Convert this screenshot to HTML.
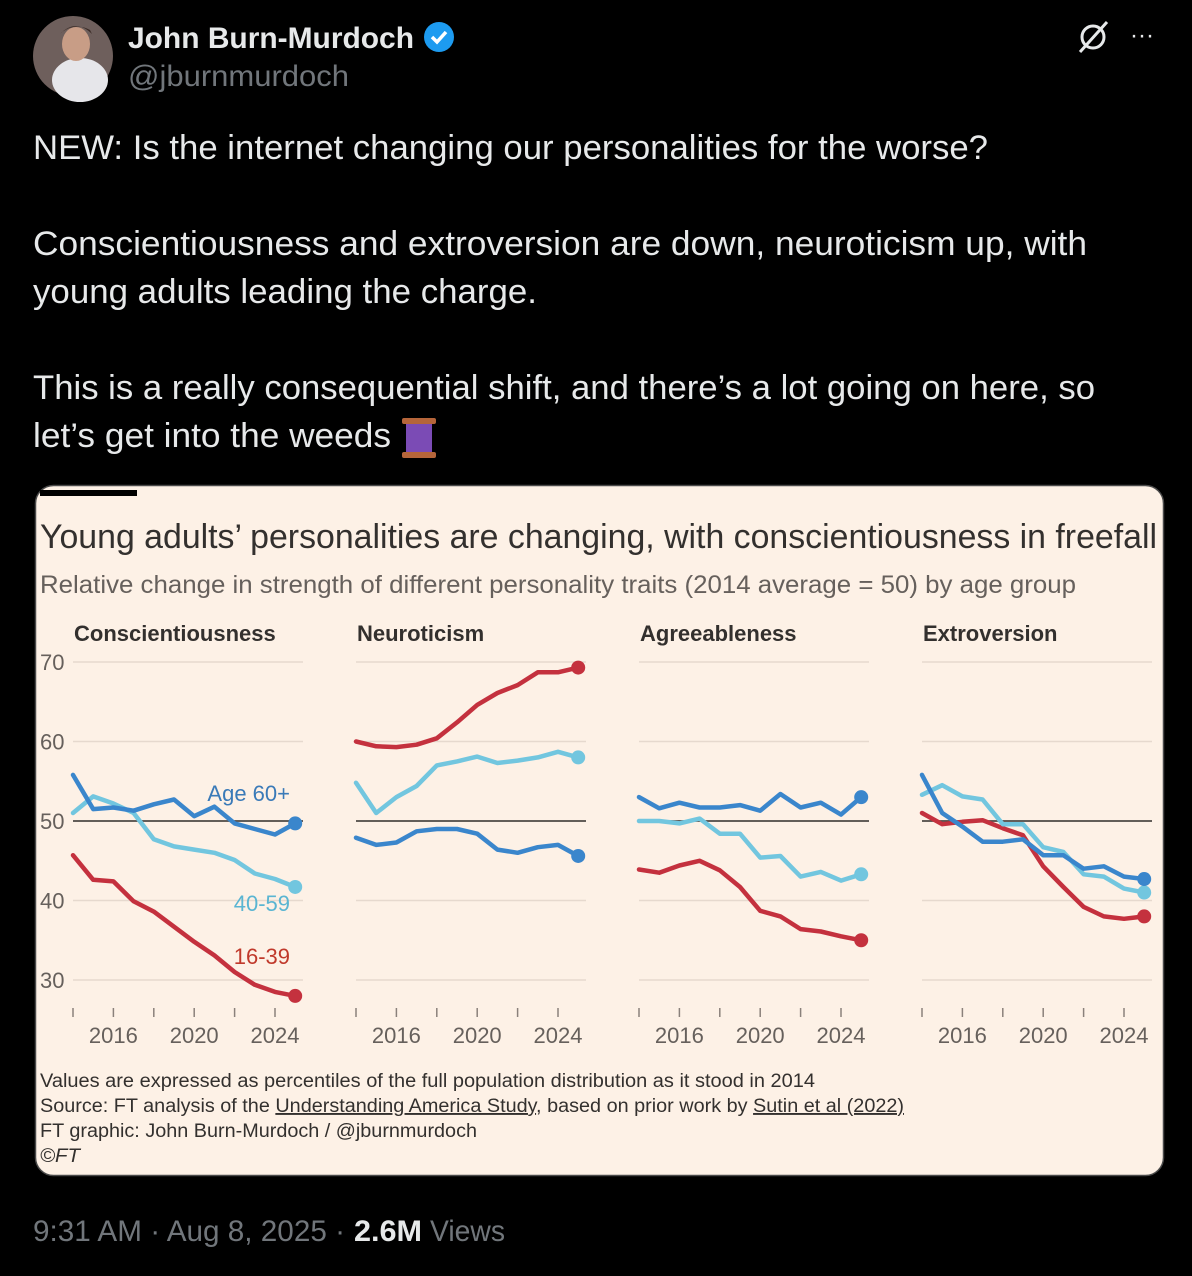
<!DOCTYPE html>
<html><head><meta charset="utf-8">
<style>
html,body{margin:0;padding:0;background:#000;}
svg{display:block;}
text{font-family:"Liberation Sans",sans-serif;}
</style></head>
<body>
<svg id="page" width="1192" height="1276" viewBox="0 0 1192 1276" xmlns="http://www.w3.org/2000/svg">
<rect x="0" y="0" width="1192" height="1276" fill="#000"/>
<g>
<circle cx="73" cy="56" r="40" fill="#6e5f5c"/>
<ellipse cx="80" cy="80" rx="28" ry="22" fill="#e6e6ea"/>
<ellipse cx="76" cy="44" rx="14" ry="17" fill="#c89d86"/>
<path d="M60 34 Q76 18 92 34 L90 30 Q76 22 62 32Z" fill="#3a2a24"/>
</g>
<text x="128" y="48" font-size="30" font-weight="bold" fill="#e7e9ea" textLength="286" lengthAdjust="spacingAndGlyphs">John Burn-Murdoch</text>
<g>
<circle cx="439" cy="37" r="15" fill="#1d9bf0"/>
<path d="M432 37 l5 5 l9 -10" stroke="#fff" stroke-width="3.5" fill="none"/>
</g>
<text x="128" y="86" font-size="30" fill="#71767b" textLength="221" lengthAdjust="spacingAndGlyphs">@jburnmurdoch</text>
<g stroke="#e7e9ea" stroke-width="3" fill="none">
<circle cx="1093" cy="37" r="11"/><line x1="1080" y1="52" x2="1107" y2="22"/>
</g>
<text x="1130" y="43" font-size="24" fill="#e7e9ea">···</text>

<g font-size="34" fill="#e7e9ea">
<text x="33" y="159" textLength="955" lengthAdjust="spacingAndGlyphs">NEW: Is the internet changing our personalities for the worse?</text>
<text x="33" y="255" textLength="1054" lengthAdjust="spacingAndGlyphs">Conscientiousness and extroversion are down, neuroticism up, with</text>
<text x="33" y="303" textLength="504" lengthAdjust="spacingAndGlyphs">young adults leading the charge.</text>
<text x="33" y="399" textLength="1062" lengthAdjust="spacingAndGlyphs">This is a really consequential shift, and there’s a lot going on here, so</text>
<text x="33" y="447" textLength="358" lengthAdjust="spacingAndGlyphs">let’s get into the weeds</text>
</g>
<g>
<rect x="402" y="418" width="34" height="6" rx="2" fill="#b5653a"/>
<rect x="406" y="424" width="26" height="28" fill="#7b4bb5"/>
<rect x="402" y="452" width="34" height="6" rx="2" fill="#b5653a"/>
</g>

<g>
<rect x="35.5" y="485.5" width="1128" height="690" rx="18" fill="#fdf1e6" stroke="#4a4a4a" stroke-width="1.5"/>
<rect x="40" y="490" width="97" height="6" fill="#000"/>
<text x="40" y="548" font-size="34" fill="#33302e" textLength="1117" lengthAdjust="spacingAndGlyphs">Young adults’ personalities are changing, with conscientiousness in freefall</text>
<text x="40" y="593" font-size="25" fill="#66605c" textLength="1036" lengthAdjust="spacingAndGlyphs">Relative change in strength of different personality traits (2014 average = 50) by age group</text>
<g id="panels"></g>
<g font-size="19" fill="#33302e">
<text x="40" y="1087" textLength="775" lengthAdjust="spacingAndGlyphs">Values are expressed as percentiles of the full population distribution as it stood in 2014</text>
<text x="40" y="1112" textLength="864" lengthAdjust="spacingAndGlyphs">Source: FT analysis of the <tspan text-decoration="underline">Understanding America Study</tspan>, based on prior work by <tspan text-decoration="underline">Sutin et al (2022)</tspan></text>
<text x="40" y="1137" textLength="437" lengthAdjust="spacingAndGlyphs">FT graphic: John Burn-Murdoch / @jburnmurdoch</text>
<text x="40" y="1162" font-style="italic" textLength="40" lengthAdjust="spacingAndGlyphs">©FT</text>
</g>
</g>

<text x="33" y="1241" font-size="30" fill="#71767b" textLength="312" lengthAdjust="spacingAndGlyphs">9:31 AM · Aug 8, 2025 ·</text>
<text x="354" y="1241" font-size="30" font-weight="bold" fill="#e7e9ea" textLength="68" lengthAdjust="spacingAndGlyphs">2.6M</text>
<text x="430" y="1241" font-size="30" fill="#71767b" textLength="75" lengthAdjust="spacingAndGlyphs">Views</text>
</svg>
<script>
const years = [2014,2015,2016,2017,2018,2019,2020,2021,2022,2023,2024,2025];
const panelTitles = ["Conscientiousness","Neuroticism","Agreeableness","Extroversion"];
const yTicks = [30,40,50,60,70];
const xTickYears = [2014,2016,2018,2020,2022,2024];
const xLabelYears = [2016,2020,2024];
const seriesNames = ["16-39","40-59","Age 60+"];
const consc60 = [55.8,51.5,51.7,51.3,52.1,52.7,50.6,51.8,49.7,49.0,48.3,49.7];
const consc40 = [51.0,53.1,52.2,51.0,47.7,46.8,46.4,46.0,45.1,43.4,42.7,41.7];
const consc16 = [45.7,42.6,42.4,39.9,38.6,36.7,34.8,33.1,31.0,29.4,28.5,28.0];
const neuro60 = [47.9,47.0,47.3,48.7,49.0,49.0,48.4,46.4,46.0,46.7,47.0,45.6];
const neuro40 = [54.8,51.0,53.0,54.4,57.0,57.5,58.1,57.3,57.6,58.0,58.7,58.0];
const neuro16 = [60.0,59.4,59.3,59.6,60.4,62.4,64.6,66.1,67.1,68.7,68.7,69.3];
const agree60 = [53.0,51.6,52.3,51.7,51.7,52.0,51.3,53.4,51.7,52.3,50.8,53.0];
const agree40 = [50.0,50.0,49.7,50.3,48.4,48.4,45.4,45.6,43.0,43.6,42.5,43.3];
const agree16 = [43.9,43.5,44.4,45.0,43.8,41.7,38.7,38.0,36.4,36.1,35.5,35.0];
const extro60 = [55.8,51.0,49.3,47.4,47.4,47.7,45.7,45.7,44.0,44.3,43.0,42.7];
const extro40 = [53.3,54.5,53.1,52.7,49.6,49.6,46.7,46.1,43.3,43.0,41.5,41.0];
const extro16 = [51.0,49.6,49.9,50.1,49.1,48.2,44.3,41.7,39.2,38.0,37.7,38.0];
const panelData = [[consc16,consc40,consc60],[neuro16,neuro40,neuro60],[agree16,agree40,agree60],[extro16,extro40,extro60]];

const NS="http://www.w3.org/2000/svg";
const colors=["#c4313e","#72c6df","#3a86cc"];
const panelLeft=[73,356,639,922];
const panelW=230;
function yScale(v){return 821-(v-50)*7.95;}
function xScale(p,yr){return panelLeft[p]+(yr-2014)*20.2;}
function mk(tag,attrs,parent){const e=document.createElementNS(NS,tag);for(const k in attrs)e.setAttribute(k,attrs[k]);parent.appendChild(e);return e;}
const root=document.getElementById('panels');
panelTitles.forEach((t,p)=>{
  const g=mk('g',{},root);
  
  
  const tt=mk('text',{x:panelLeft[p]+1,y:641,'font-size':22,'font-weight':'bold',fill:'#33302e'},g);
  tt.textContent=t;
  
  
  yTicks.forEach(v=>{
    const l=mk('line',{x1:panelLeft[p],x2:panelLeft[p]+panelW,y1:yScale(v),y2:yScale(v),stroke:v===50?'#4d4845':'#e6d9ce','stroke-width':v===50?1.8:1.5},g);
    
    
    if(p===0){
      const lab=mk('text',{x:40,y:yScale(v)+8,'font-size':22,fill:'#66605c'},g);
      lab.textContent=v;
      
      
    }
  });
  xTickYears.forEach(yr=>{
    const tk=mk('line',{x1:xScale(p,yr),x2:xScale(p,yr),y1:1008,y2:1017,stroke:'#8a817b','stroke-width':1.5},g);
    
    
  });
  xLabelYears.forEach(yr=>{
    const lab=mk('text',{x:xScale(p,yr),y:1043,'font-size':22,fill:'#66605c','text-anchor':'middle'},g);
    lab.textContent=yr;
    
    
  });
  panelData[p].forEach((vals,s)=>{
    const pts=vals.map((v,i)=>xScale(p,years[i]).toFixed(1)+','+yScale(v).toFixed(1)).join(' ');
    const pl=mk('polyline',{points:pts,fill:'none',stroke:colors[s],'stroke-width':4.5,'stroke-linejoin':'round','stroke-linecap':'round'},g);
    
    
    const last=vals.length-1;
    const c=mk('circle',{cx:xScale(p,years[last]),cy:yScale(vals[last]),r:7,fill:colors[s]},g);
    
    
  });
});
const labelDefs=[["Age 60+",290,801,"#3a7ab8"],["40-59",290,911,"#5ab5d2"],["16-39",290,964,"#c0392b"]];
labelDefs.forEach(d=>{
  const t=mk('text',{x:d[1],y:d[2],'font-size':22,fill:d[3],'text-anchor':'end'},root);
  t.textContent=d[0];
  
  
});
</script>
</body></html>
